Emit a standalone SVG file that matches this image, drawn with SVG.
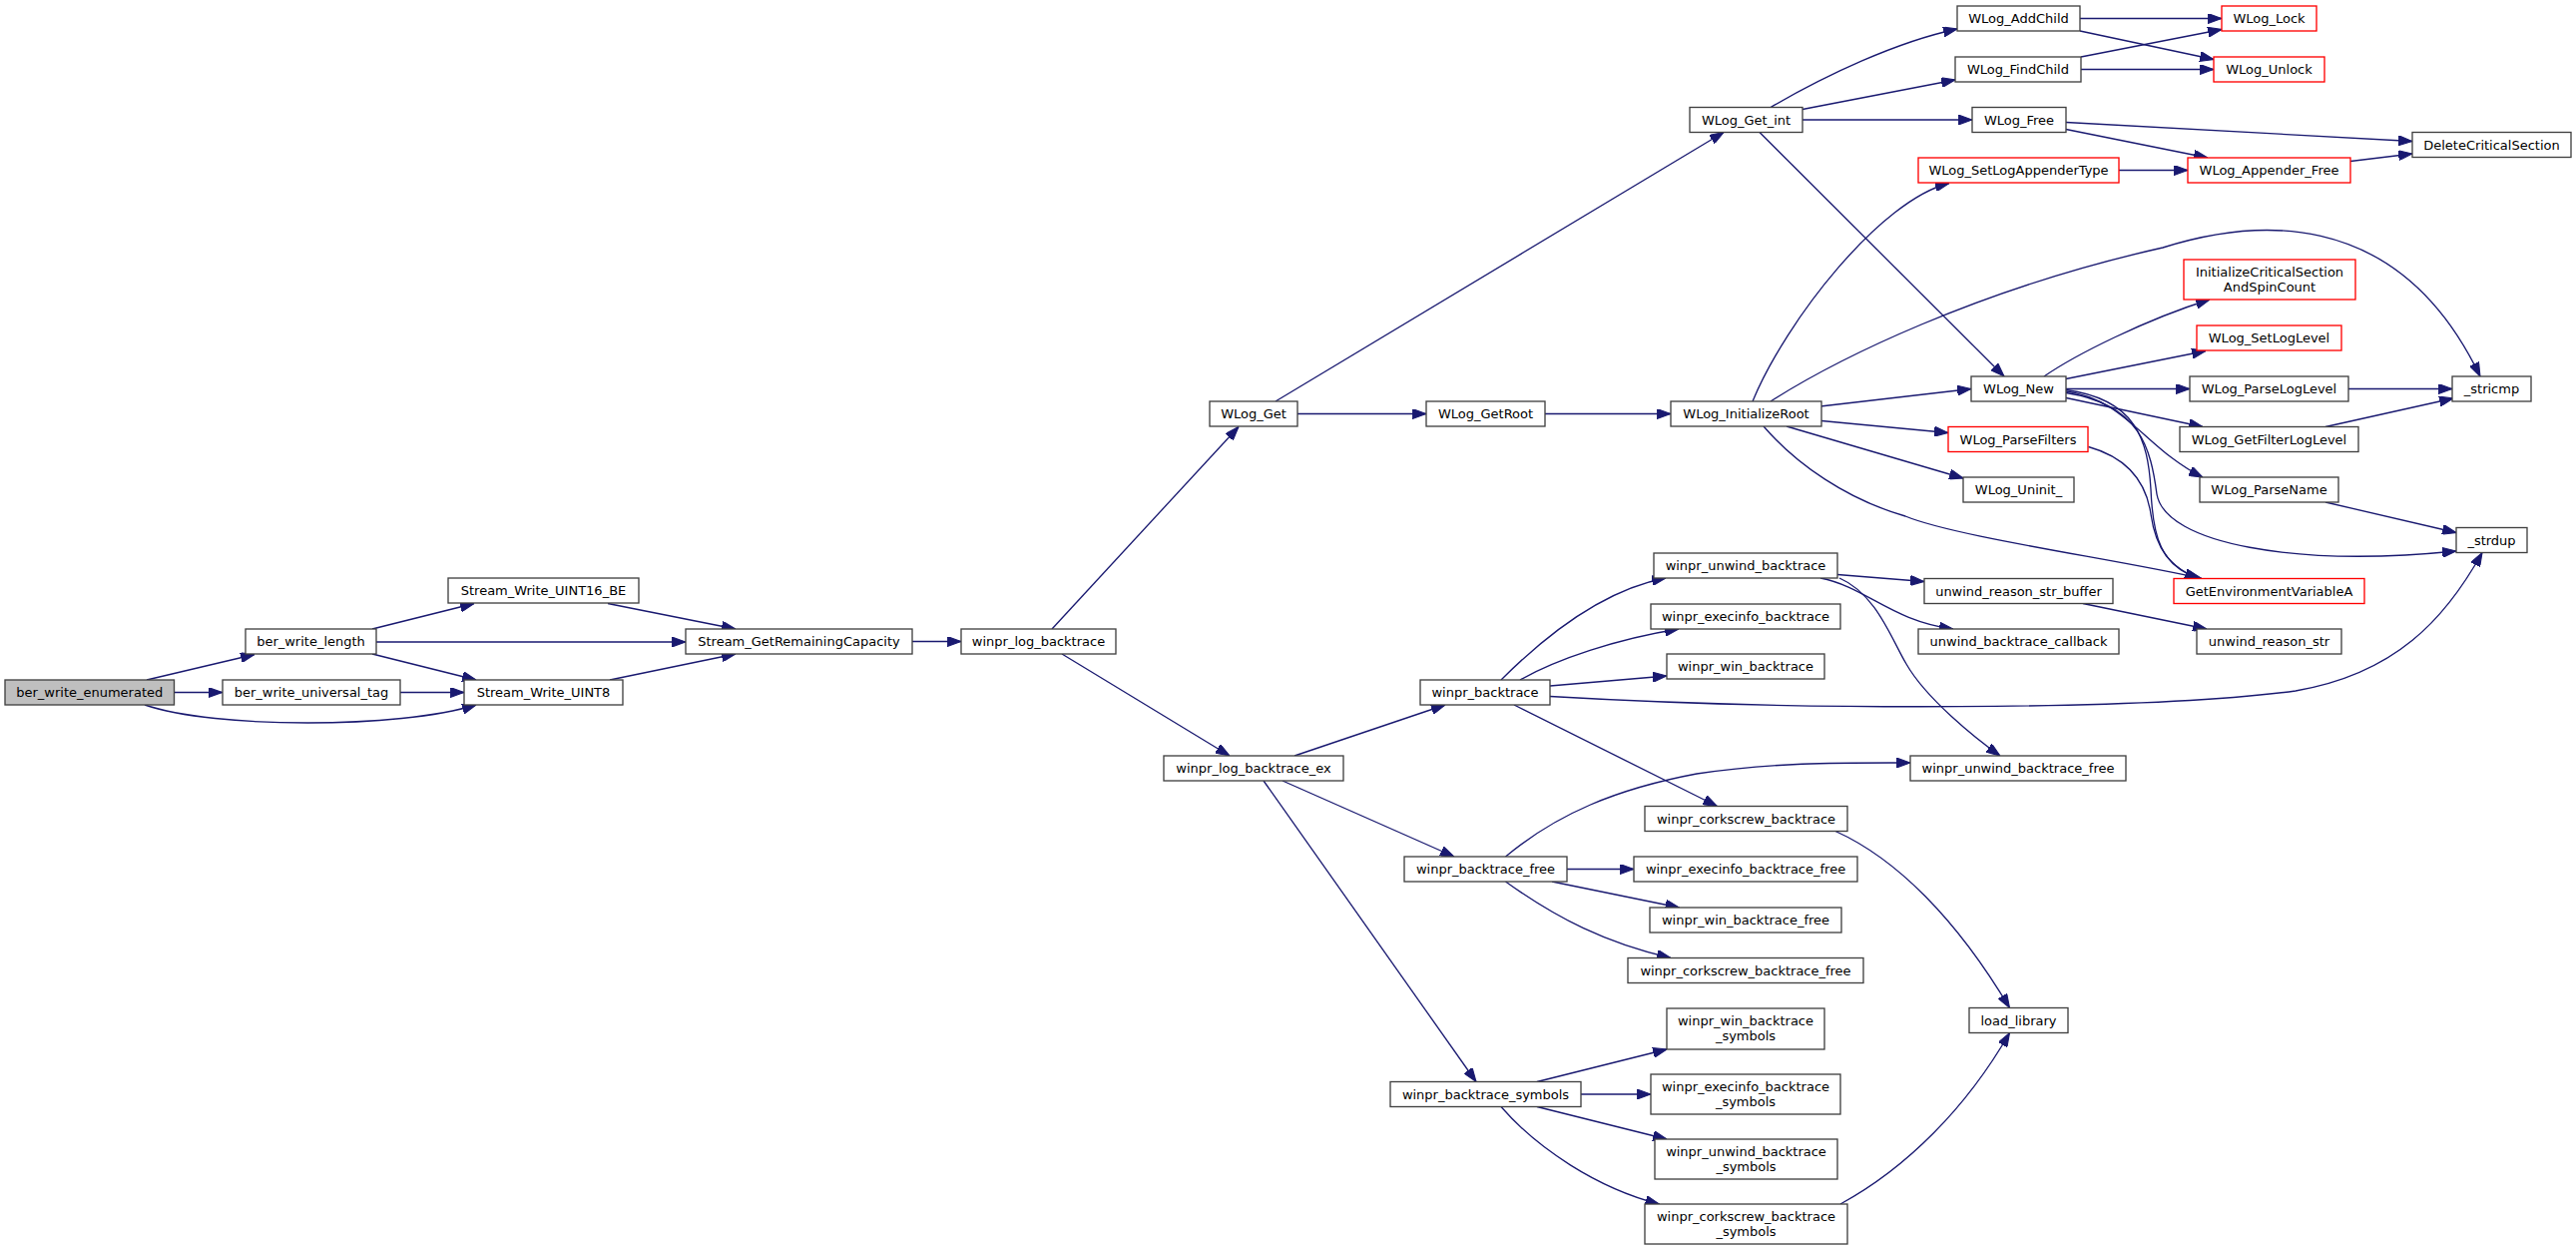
<svg xmlns="http://www.w3.org/2000/svg" width="2581" height="1253" viewBox="0 0 2581 1253">
<style>
.n rect{fill:#ffffff;stroke:#404040;stroke-width:1.33}
.n.r rect{stroke:#ff0000}
.n.s rect{fill:#bfbfbf}
.n text{font-family:"DejaVu Sans","Liberation Sans",sans-serif;font-size:13px;fill:#000000;text-anchor:middle}
.e path{fill:none;stroke:#191970;stroke-width:1.33;marker-end:url(#a)}
</style>
<defs>
<marker id="a" markerUnits="userSpaceOnUse" markerWidth="14" markerHeight="10" viewBox="0 0 13 9.4" refX="13" refY="4.7" orient="auto"><path d="M0,0L13,4.7L0,9.4z" fill="#191970" stroke="#191970" stroke-width="1"/></marker>
</defs>
<rect width="2581" height="1253" fill="#ffffff"/>
<g id="edges" class="e">
<path d="M147,681L255,655.5"/>
<path d="M174.5,693.5L222.5,693.5"/>
<path d="M145,706C215,730 400,730 477,706"/>
<path d="M373,630L475,604.5"/>
<path d="M377,643L687,643"/>
<path d="M373,655L477,681"/>
<path d="M401,693.5L465,693.5"/>
<path d="M609,604.5L737,630"/>
<path d="M611,681L737,655"/>
<path d="M914,642.5L963,642.5"/>
<path d="M1054,630L1241,427.5"/>
<path d="M1064,655L1232,757"/>
<path d="M1278,402L1727,132.5"/>
<path d="M1300,414.5L1429,414.5"/>
<path d="M1548,414.5L1674,414.5"/>
<path d="M1774,107.5C1830,75 1900,42 1961,29"/>
<path d="M1806,109.5L1959,80"/>
<path d="M1806,120L1976,120"/>
<path d="M1763,132.5L2008,377"/>
<path d="M2084,18.5L2226,18.5"/>
<path d="M2084,31L2218,59.5"/>
<path d="M2085,57L2226,29.5"/>
<path d="M2085,69.5L2218,69.5"/>
<path d="M2070,122.5L2417,141.5"/>
<path d="M2070,129.5L2212,158"/>
<path d="M2123,170.5L2192,170.5"/>
<path d="M2355,161.5L2417,154"/>
<path d="M1756,402C1790,320 1885,200 1953,183.5"/>
<path d="M1774,402C1840,360 1980,290 2167,248C2250,222 2400,200 2485,377"/>
<path d="M1824,407L1975,389.5"/>
<path d="M1825,421.5L1952,433.5"/>
<path d="M1790,427L1967,479"/>
<path d="M1767,427C1800,465 1850,500 1909,517C1960,538 2120,560 2206,579.5"/>
<path d="M2048,377C2080,355 2150,320 2214,300"/>
<path d="M2070,379.5L2210,351.5"/>
<path d="M2070,389.5L2194,389.5"/>
<path d="M2070,398.5L2207,427.5"/>
<path d="M2070,392C2130,400 2150,450 2207,478"/>
<path d="M2070,390.5C2140,400 2152,440 2155,490C2157,540 2165,565 2203,579.5"/>
<path d="M2092.5,447.5C2130,458 2150,480 2155,515C2160,550 2175,570 2203,579.5"/>
<path d="M2070,393.5C2145,405 2155,450 2161,495C2170,545 2300,568 2461,552"/>
<path d="M2353,389.5L2457,389.5"/>
<path d="M2330,427.5L2458,399"/>
<path d="M2330,503L2461,533.5"/>
<path d="M1297,757L1448,706"/>
<path d="M1285,782L1457,858"/>
<path d="M1266,782L1479,1083.5"/>
<path d="M1504,681C1540,645 1600,592 1669,579"/>
<path d="M1523,681C1560,660 1620,640 1682,630"/>
<path d="M1553,687L1670,677"/>
<path d="M1553,697.5C1800,712 2150,712 2300,692C2400,675 2450,620 2487,553.5"/>
<path d="M1517,706L1720.5,807.5"/>
<path d="M1841,575.5L1928,582.5"/>
<path d="M1824,579C1870,588 1895,622 1957,630"/>
<path d="M1843,579C1880,595 1895,640 1910,665C1930,700 1980,740 2004,757"/>
<path d="M2087,604.5L2211,630"/>
<path d="M1508.5,858C1560,815 1620,790 1700,775C1780,763 1850,764 1914,764"/>
<path d="M1570,870.5L1637,870.5"/>
<path d="M1555,883L1682.5,909"/>
<path d="M1508.5,883C1560,920 1610,945 1674,959.5"/>
<path d="M1839,832.5C1900,860 1960,920 2013.5,1009.5"/>
<path d="M1540,1083.5L1670,1051"/>
<path d="M1584,1096L1654,1096"/>
<path d="M1540,1108.5L1670,1141"/>
<path d="M1504,1108.5C1540,1150 1600,1190 1662.5,1206"/>
<path d="M1844,1206C1910,1170 1970,1110 2013.5,1034.5"/>
</g>
<g id="n1" class="n s"><rect x="5" y="681" width="169.5" height="25"/><text x="89.75" y="698">ber_write_enumerated</text></g>
<g id="n2" class="n"><rect x="246" y="630" width="131" height="25"/><text x="311.5" y="647">ber_write_length</text></g>
<g id="n3" class="n"><rect x="223" y="681" width="178" height="25"/><text x="312" y="698">ber_write_universal_tag</text></g>
<g id="n4" class="n"><rect x="449" y="579" width="191" height="25"/><text x="544.5" y="596">Stream_Write_UINT16_BE</text></g>
<g id="n5" class="n"><rect x="465" y="681" width="159" height="25"/><text x="544.5" y="698">Stream_Write_UINT8</text></g>
<g id="n6" class="n"><rect x="687" y="630" width="227" height="25"/><text x="800.5" y="647">Stream_GetRemainingCapacity</text></g>
<g id="n7" class="n"><rect x="963" y="630" width="155" height="25"/><text x="1040.5" y="647">winpr_log_backtrace</text></g>
<g id="n8" class="n"><rect x="1212" y="402" width="88" height="25"/><text x="1256" y="419">WLog_Get</text></g>
<g id="n9" class="n"><rect x="1166" y="757" width="180" height="25"/><text x="1256" y="774">winpr_log_backtrace_ex</text></g>
<g id="n10" class="n"><rect x="1429" y="402" width="119" height="25"/><text x="1488.5" y="419">WLog_GetRoot</text></g>
<g id="n11" class="n"><rect x="1674" y="402" width="151" height="25"/><text x="1749.5" y="419">WLog_InitializeRoot</text></g>
<g id="n12" class="n"><rect x="1693" y="107.5" width="113" height="25"/><text x="1749.5" y="124.5">WLog_Get_int</text></g>
<g id="n13" class="n"><rect x="1423" y="681" width="130" height="25"/><text x="1488" y="698">winpr_backtrace</text></g>
<g id="n14" class="n"><rect x="1657" y="554" width="184" height="25"/><text x="1749" y="571">winpr_unwind_backtrace</text></g>
<g id="n15" class="n"><rect x="1654" y="605" width="190" height="25"/><text x="1749" y="622">winpr_execinfo_backtrace</text></g>
<g id="n16" class="n"><rect x="1670" y="655" width="158" height="25"/><text x="1749" y="672">winpr_win_backtrace</text></g>
<g id="n17" class="n"><rect x="1648" y="807.5" width="203" height="25"/><text x="1749.5" y="824.5">winpr_corkscrew_backtrace</text></g>
<g id="n18" class="n"><rect x="1407" y="858" width="163" height="25"/><text x="1488.5" y="875">winpr_backtrace_free</text></g>
<g id="n19" class="n"><rect x="1637" y="858" width="224" height="25"/><text x="1749" y="875">winpr_execinfo_backtrace_free</text></g>
<g id="n20" class="n"><rect x="1653" y="909" width="192" height="25"/><text x="1749" y="926">winpr_win_backtrace_free</text></g>
<g id="n21" class="n"><rect x="1631" y="959.5" width="236" height="25"/><text x="1749" y="976.5">winpr_corkscrew_backtrace_free</text></g>
<g id="n22" class="n"><rect x="1393" y="1083.5" width="191" height="25"/><text x="1488.5" y="1100.5">winpr_backtrace_symbols</text></g>
<g id="n23" class="n"><rect x="1670" y="1010" width="158" height="41"/><text x="1749" y="1027"><tspan x="1749">winpr_win_backtrace</tspan><tspan x="1749" dy="15">_symbols</tspan></text></g>
<g id="n24" class="n"><rect x="1654" y="1076" width="190" height="40"/><text x="1749" y="1092.5"><tspan x="1749">winpr_execinfo_backtrace</tspan><tspan x="1749" dy="15">_symbols</tspan></text></g>
<g id="n25" class="n"><rect x="1658" y="1141" width="183" height="40"/><text x="1749.5" y="1157.5"><tspan x="1749.5">winpr_unwind_backtrace</tspan><tspan x="1749.5" dy="15">_symbols</tspan></text></g>
<g id="n26" class="n"><rect x="1648" y="1206" width="203" height="40"/><text x="1749.5" y="1222.5"><tspan x="1749.5">winpr_corkscrew_backtrace</tspan><tspan x="1749.5" dy="15">_symbols</tspan></text></g>
<g id="n27" class="n"><rect x="1961" y="6" width="123" height="25"/><text x="2022.5" y="23">WLog_AddChild</text></g>
<g id="n28" class="n"><rect x="1959" y="57" width="126" height="25"/><text x="2022" y="74">WLog_FindChild</text></g>
<g id="n29" class="n"><rect x="1976" y="107.5" width="94" height="25"/><text x="2023" y="124.5">WLog_Free</text></g>
<g id="n30" class="n r"><rect x="1922" y="158" width="201" height="25"/><text x="2022.5" y="175">WLog_SetLogAppenderType</text></g>
<g id="n31" class="n r"><rect x="2226" y="6" width="95" height="25"/><text x="2273.5" y="23">WLog_Lock</text></g>
<g id="n32" class="n r"><rect x="2218" y="57" width="111" height="25"/><text x="2273.5" y="74">WLog_Unlock</text></g>
<g id="n33" class="n"><rect x="2417" y="132.5" width="159" height="25"/><text x="2496.5" y="149.5">DeleteCriticalSection</text></g>
<g id="n34" class="n r"><rect x="2192" y="158" width="163" height="25"/><text x="2273.5" y="175">WLog_Appender_Free</text></g>
<g id="n35" class="n r"><rect x="2188" y="260" width="172" height="40"/><text x="2274" y="276.5"><tspan x="2274">InitializeCriticalSection</tspan><tspan x="2274" dy="15">AndSpinCount</tspan></text></g>
<g id="n36" class="n r"><rect x="2201" y="326" width="145" height="25"/><text x="2273.5" y="343">WLog_SetLogLevel</text></g>
<g id="n37" class="n"><rect x="1975" y="377" width="95" height="25"/><text x="2022.5" y="394">WLog_New</text></g>
<g id="n38" class="n"><rect x="2194" y="377" width="159" height="25"/><text x="2273.5" y="394">WLog_ParseLogLevel</text></g>
<g id="n39" class="n"><rect x="2457" y="377" width="79" height="25"/><text x="2496.5" y="394">_stricmp</text></g>
<g id="n40" class="n r"><rect x="1952" y="427.5" width="140" height="25"/><text x="2022" y="444.5">WLog_ParseFilters</text></g>
<g id="n41" class="n"><rect x="2184" y="427.5" width="179" height="25"/><text x="2273.5" y="444.5">WLog_GetFilterLogLevel</text></g>
<g id="n42" class="n"><rect x="1967" y="478" width="111" height="25"/><text x="2022.5" y="495">WLog_Uninit_</text></g>
<g id="n43" class="n"><rect x="2204" y="478" width="139" height="25"/><text x="2273.5" y="495">WLog_ParseName</text></g>
<g id="n44" class="n"><rect x="2461" y="528.5" width="71" height="25"/><text x="2496.5" y="545.5">_strdup</text></g>
<g id="n45" class="n"><rect x="1928" y="579.5" width="189" height="25"/><text x="2022.5" y="596.5">unwind_reason_str_buffer</text></g>
<g id="n46" class="n r"><rect x="2178" y="579.5" width="191" height="25"/><text x="2273.5" y="596.5">GetEnvironmentVariableA</text></g>
<g id="n47" class="n"><rect x="1922" y="630" width="201" height="25"/><text x="2022.5" y="647">unwind_backtrace_callback</text></g>
<g id="n48" class="n"><rect x="2201" y="630" width="145" height="25"/><text x="2273.5" y="647">unwind_reason_str</text></g>
<g id="n49" class="n"><rect x="1914" y="757" width="216" height="25"/><text x="2022" y="774">winpr_unwind_backtrace_free</text></g>
<g id="n50" class="n"><rect x="1973" y="1009.5" width="99" height="25"/><text x="2022.5" y="1026.5">load_library</text></g>
</svg>
